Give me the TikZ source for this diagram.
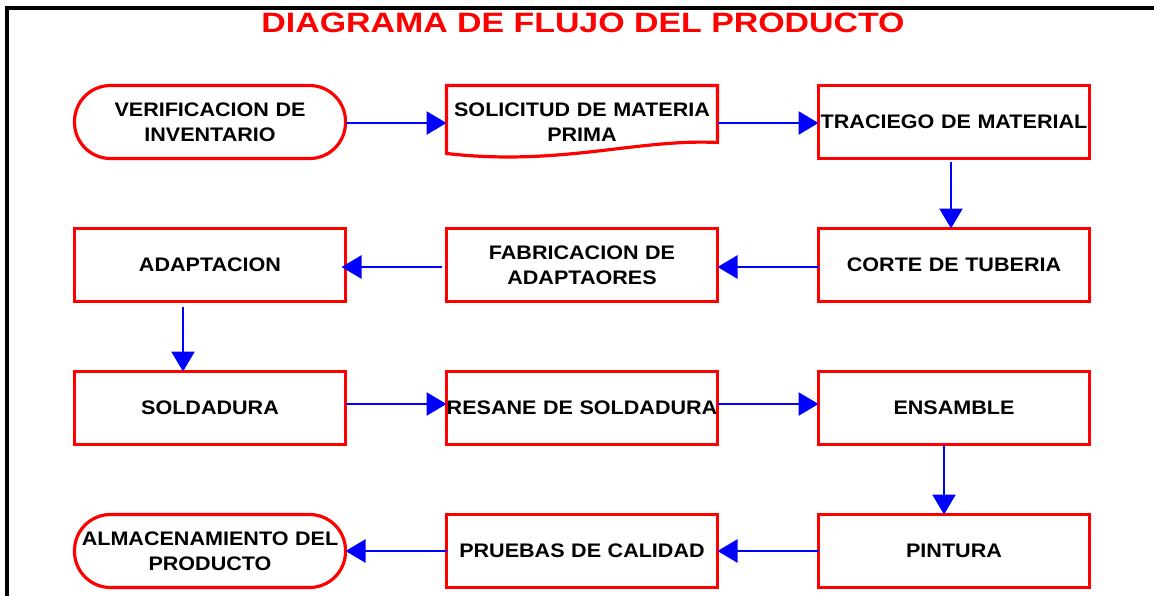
\documentclass[tikz,border=0pt]{standalone}
\usepackage{fontspec}
\setmainfont{Liberation Sans}
\newfontfamily\cajafont[FakeStretch=1.1]{Liberation Sans}
\newfontfamily\titulofont[FakeStretch=1.21]{Liberation Sans}
\usepackage{xcolor}
\usetikzlibrary{positioning,arrows.meta}

\begin{document}
\begin{tikzpicture}[x=0.5pt, y=-0.5pt, paso/.style={draw=red, line width=1.6pt, outer sep=0pt, align=center, font=\cajafont\fontsize{9.8}{12.5}\selectfont\bfseries, text width=133.5pt, minimum height=36.5pt, inner sep=1pt}, terminal/.style={paso, rounded corners=18pt}, flujo/.style={-{Triangle[length=10pt, width=11.5pt]}, draw=blue, line width=1.3pt}]
\useasboundingbox (0,0) rectangle (1154,595);
\draw[line width=2pt] (7,600) -- (7,8) -- (1160,8);
\node[text=red, anchor=base, font=\titulofont\fontsize{14}{16}\selectfont\bfseries] (titulo) at (583,32) {DIAGRAMA DE FLUJO DEL PRODUCTO};
% fila 1
\node[terminal] (verificacion) at (210,122) {VERIFICACION DE\\INVENTARIO};
\node[paso, draw=none, right=50.5pt of verificacion] (solicitud) {SOLICITUD DE MATERIA\\PRIMA};
\draw[red, line width=1.6pt] (solicitud.north west) -- (solicitud.north east) -- ([yshift=8pt]solicitud.south east) .. controls ([xshift=-40pt, yshift=10pt]solicitud.south east) and ([xshift=57pt, yshift=-4pt]solicitud.south west) .. ([yshift=2.5pt]solicitud.south west) -- cycle;
\node[paso, right=50.5pt of solicitud] (traciego) {\makebox[\linewidth]{TRACIEGO DE MATERIAL}};
% fila 2
\node[paso, below=35pt of traciego] (corte) {CORTE DE TUBERIA};
\node[paso, left=50.5pt of corte] (fabricacion) {FABRICACION DE\\ADAPTAORES};
\node[paso, left=50.5pt of fabricacion] (adaptacion) {ADAPTACION};
% fila 3
\node[paso, below=35pt of adaptacion] (soldadura) {SOLDADURA};
\node[paso, right=50.5pt of soldadura] (resane) {\makebox[\linewidth]{RESANE DE SOLDADURA}};
\node[paso, right=50.5pt of resane] (ensamble) {ENSAMBLE};
% fila 4
\node[paso, below=35pt of ensamble] (pintura) {PINTURA};
\node[paso, left=50.5pt of pintura] (pruebas) {PRUEBAS DE CALIDAD};
\node[terminal, left=50.5pt of pruebas] (almacenamiento) {ALMACENAMIENTO DEL\\PRODUCTO};
% conexiones
\draw[flujo] ([yshift=-0.5pt]verificacion.east) -- ([yshift=-0.5pt]solicitud.west);
\draw[flujo] ([yshift=-0.5pt]solicitud.east) -- ([yshift=-0.5pt]traciego.west);
\draw[flujo, shorten <=1.5pt] ([xshift=-1.5pt]traciego.south) -- ([xshift=-1.5pt]corte.north);
\draw[flujo] ([yshift=-1pt]corte.west) -- ([yshift=-1pt]fabricacion.east);
\draw[flujo, shorten <=2.5pt, shorten >=-2pt] ([yshift=-1pt]fabricacion.west) -- ([yshift=-1pt]adaptacion.east);
\draw[flujo, shorten <=2.5pt] ([xshift=-13.5pt]adaptacion.south) -- ([xshift=-13.5pt]soldadura.north);
\draw[flujo] ([yshift=2pt]soldadura.east) -- ([yshift=2pt]resane.west);
\draw[flujo] ([yshift=2pt]resane.east) -- ([yshift=2pt]ensamble.west);
\draw[flujo] ([xshift=-5pt]ensamble.south) -- ([xshift=-5pt]pintura.north);
\draw[flujo] (pintura.west) -- (pruebas.east);
\draw[flujo] (pruebas.west) -- (almacenamiento.east);
\end{tikzpicture}
\end{document}
